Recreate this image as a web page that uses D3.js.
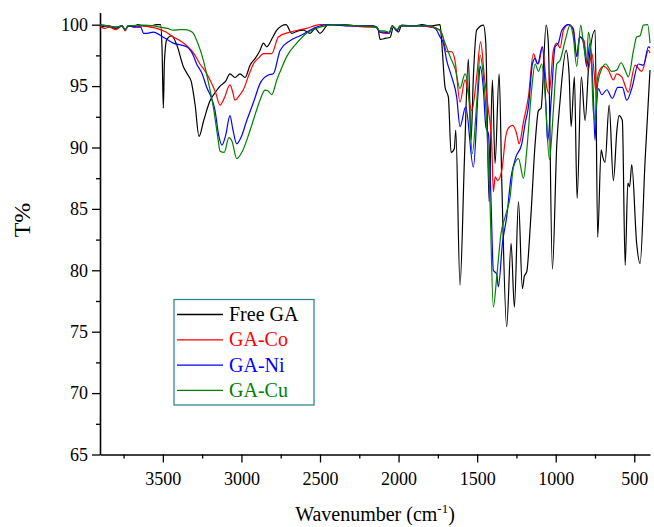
<!DOCTYPE html>
<html>
<head>
<meta charset="utf-8">
<script src="https://cdn.jsdelivr.net/npm/d3@7"></script>
<style>
  body { margin: 0; background: #fff; }
  svg text { font-family: "Liberation Serif", "Times New Roman", serif; }
</style>
</head>
<body>
<div id="chart"></div>
<script>
const freeGA = [
  [3900,99.8],[3850,99.9],[3800,99.7],[3760,99.9],[3740,99.6],[3720,99.9],[3680,99.8],[3660,100],[3620,99.9],
  [3580,99.9],[3540,100],[3515,100],[3505,98],[3497,93.2],[3490,97],[3475,98.8],[3444,99.1],[3410,98.3],
  [3370,96.6],[3340,95.9],[3320,95.4],[3295,93.5],[3270,90.9],[3240,92.2],[3200,93.8],[3160,94.6],[3136,95.0],
  [3100,95.4],[3073,96.0],[3041,95.7],[3009,96.0],[2977,95.7],[2945,96.7],[2910,97.3],[2882,97.9],[2860,98.5],
  [2839,98.2],[2800,99.0],[2775,99.55],[2716,100],[2680,99.3],[2640,99.5],[2606,99.55],[2563,99.3],[2531,99.7],
  [2500,99.3],[2447,100],[2350,100],[2250,99.9],[2160,99.9],[2130,99.6],[2118,98.8],[2080,98.9],[2054,98.96],
  [2033,99.8],[2015,99.6],[2001,99.4],[1980,99.96],[1900,99.9],[1850,100],[1800,99.9],[1736,100],[1725,98.5],
  [1704,94.9],[1683,94.1],[1666,89.6],[1645,89.9],[1636,91.4],[1609,78.8],[1581,89.0],[1556,97.2],[1539,90.6],
  [1524,95.75],[1503,99.55],[1460,99.96],[1445,98.5],[1424,85.6],[1403,95.5],[1386,88.7],[1360,96.0],[1343,87.1],
  [1312,75.4],[1284,82.2],[1263,77.0],[1237,85.6],[1212,78.5],[1200,79.5],[1184,79.9],[1160,84],[1131,90.3],
  [1110,93.0],[1093,93.2],[1061,99.96],[1047,98.5],[1021,80.1],[993,90.3],[972,93.85],[934,97.9],[915,96],
  [902,91.7],[881,95.75],[864,85.85],[837,95.75],[813,92.2],[788,97.1],[749,99.55],[733,82.7],[711,89.8],
  [700,89.2],[686,88.8],[660,93.45],[633,87.3],[610,91.5],[597,92.6],[576,92.2],[558,80.4],[541,87.1],
  [530,86.8],[516,88.6],[485,82.2],[463,80.55],[431,89.0],[400,96.3]
];

const gaCo = [
  [3900,99.9],[3870,99.7],[3840,99.8],[3800,99.6],[3760,99.9],[3740,99.5],[3720,99.9],[3680,99.8],[3625,99.9],
  [3580,99.8],[3540,99.7],[3480,99.4],[3434,99.0],[3390,98.7],[3349,98.3],[3300,97.6],[3264,96.8],[3230,96.2],
  [3200,95.5],[3165,94.5],[3136,93.45],[3110,94.0],[3073,95.1],[3055,94.5],[3041,93.85],[3015,94.2],[2988,94.7],
  [2950,96.0],[2924,96.8],[2890,97.3],[2860,97.65],[2807,97.65],[2765,99.0],[2691,99.4],[2585,99.7],[2500,100],
  [2300,99.9],[2200,99.8],[2139,99.8],[2120,99.4],[2090,99.3],[2060,99.3],[2040,99.9],[2010,99.5],[1990,99.9],
  [1850,99.9],[1800,99.8],[1757,99.7],[1725,99.3],[1694,97.8],[1662,97.8],[1640,97.0],[1609,93.7],[1577,95.5],
  [1534,93.0],[1503,95.75],[1478,98.6],[1454,95.75],[1428,93.0],[1407,90.3],[1397,86.4],[1385,87.6],[1369,87.3],
  [1343,88.15],[1318,90.9],[1300,91.6],[1275,91.8],[1248,91.1],[1233,90.3],[1205,92.1],[1174,94.1],[1142,97.65],
  [1131,97.3],[1121,96.9],[1110,96.8],[1085,98.2],[1057,94.9],[1042,94.4],[1015,97.9],[993,98.5],[972,98.1],
  [951,99.55],[919,100],[888,99.7],[866,97.4],[848,99.0],[820,98.7],[795,96.3],[769,97.65],[755,96],[746,94.7],
  [729,96.0],[697,96.6],[665,96.3],[633,95.5],[612,96.0],[580,95.75],[538,94.5],[495,96.7],[452,96.2],[410,97.9],
  [400,97.7]
];

const gaNi = [
  [3900,100],[3850,99.9],[3800,99.8],[3760,99.9],[3740,99.6],[3720,99.9],[3660,99.8],[3640,99.8],[3624,99.3],
  [3600,99.3],[3561,99.4],[3500,99.0],[3434,98.5],[3349,98.2],[3310,97.6],[3285,96.8],[3250,96.0],[3221,94.9],
  [3190,94.0],[3168,93.0],[3145,91.0],[3124,90.2],[3100,91.0],[3073,92.6],[3055,91.5],[3030,90.3],[3000,90.9],
  [2966,92.2],[2920,93.8],[2882,95.2],[2829,95.9],[2797,96.0],[2754,97.9],[2691,98.7],[2627,99.1],[2521,99.8],
  [2450,100],[2300,99.9],[2200,99.9],[2140,99.8],[2120,99.4],[2090,99.4],[2060,99.3],[2040,99.9],[2010,99.5],
  [1990,99.9],[1800,99.9],[1760,99.6],[1736,99.0],[1715,98.5],[1694,97.1],[1662,95.75],[1630,94.1],[1609,91.7],
  [1573,93.3],[1524,88.4],[1492,94.9],[1481,96.6],[1460,94.7],[1445,91.7],[1428,91.1],[1411,85.4],[1397,80.0],
  [1375,79.7],[1365,78.65],[1339,82.2],[1312,84.35],[1284,87.6],[1254,89.2],[1216,90.3],[1195,91.95],[1174,93.3],
  [1148,96.8],[1131,97.25],[1115,96.8],[1085,98.2],[1061,93.0],[1052,90.5],[1029,93.85],[1004,98.2],[983,98.5],
  [961,99.55],[919,100],[888,99.55],[866,97.4],[848,99.0],[824,98.6],[803,96.6],[782,98.5],[761,94.4],[750,90.6],
  [739,93.6],[729,94.8],[707,94.3],[675,94.7],[640,94.0],[605,94.9],[576,94.9],[548,93.85],[516,94.8],[474,96.8],
  [442,96.7],[410,98.2],[400,98.1]
];

const gaCu = [
  [3900,100],[3850,99.9],[3800,99.8],[3760,99.9],[3740,99.6],[3720,99.9],[3624,99.96],[3560,99.9],[3518,99.8],
  [3470,99.7],[3434,99.55],[3390,99.6],[3359,99.6],[3330,99.5],[3306,99.3],[3275,98.4],[3242,97.1],[3210,95.3],
  [3179,93.3],[3150,90.8],[3136,89.7],[3110,89.6],[3080,90.8],[3060,90.5],[3030,89.1],[2990,89.8],[2945,91.4],
  [2910,92.8],[2882,93.85],[2850,94.67],[2830,94.6],[2807,94.3],[2775,95.5],[2740,96.6],[2712,97.4],[2648,98.5],
  [2585,99.3],[2500,99.8],[2400,100],[2250,99.9],[2140,99.8],[2120,99.5],[2090,99.5],[2060,99.4],[2040,99.9],
  [2010,99.6],[1990,99.9],[1800,99.9],[1760,99.7],[1736,99.55],[1704,98.5],[1672,97.4],[1640,96.4],[1609,94.8],
  [1577,96.0],[1556,94.7],[1531,89.5],[1503,93.6],[1481,97.5],[1460,95.75],[1439,91.95],[1418,85.4],[1397,77.0],
  [1375,79.5],[1348,83.0],[1322,84.35],[1290,86.0],[1269,88.4],[1237,89.1],[1205,87.5],[1184,89.8],[1152,94.9],
  [1131,96.8],[1110,96.2],[1089,96.8],[1068,94.4],[1040,89.0],[1015,93.0],[993,96.8],[972,97.1],[940,98.7],
  [908,99.96],[888,99.0],[866,96.6],[841,99.96],[824,98.5],[803,97.1],[792,99.4],[775,97.65],[761,93.0],
  [750,92.2],[733,95.2],[707,96.4],[682,96.8],[644,96.2],[612,96.3],[584,96.9],[558,96.3],[538,95.75],
  [505,97.9],[485,99.0],[463,99.1],[442,99.96],[415,100],[400,98.5]
];

const seriesNames = ["Free GA", "GA-Co", "GA-Ni", "GA-Cu"];
const seriesColors = ["#000000", "#ff0000", "#0000ff", "#008000"];
const seriesData = [freeGA, gaCo, gaNi, gaCu];

const xTicks = [3500, 3000, 2500, 2000, 1500, 1000, 500];
const xMinorTicks = [3750, 3250, 2750, 2250, 1750, 1250, 750];
const yTicks = [65, 70, 75, 80, 85, 90, 95, 100];
const yMinorTicks = [67.5, 72.5, 77.5, 82.5, 87.5, 92.5, 97.5];

const width = 654;
const height = 527;

const svg = d3.select("#chart")
  .append("svg")
  .attr("width", width)
  .attr("height", height);

// escalas (eje x invertido)
const x = d3.scaleLinear().domain([3900, 400]).range([100, 650]);
const y = d3.scaleLinear().domain([65, 101]).range([454.5, 12.4]);

// ticks menores primero
svg.append("g")
  .attr("transform", `translate(0,${y(65)})`)
  .call(d3.axisBottom(x).tickValues(xMinorTicks).tickSize(4).tickFormat(""))
  .call((g) => g.select(".domain").remove())
  .selectAll("line").attr("stroke-width", 1.3);

svg.append("g")
  .attr("transform", `translate(${x(3900)},0)`)
  .call(d3.axisLeft(y).tickValues(yMinorTicks).tickSize(4).tickFormat(""))
  .call((g) => g.select(".domain").remove())
  .selectAll("line").attr("stroke-width", 1.3);

// ejes principales
const xAxis = svg.append("g")
  .attr("transform", `translate(0,${y(65)})`)
  .call(d3.axisBottom(x).tickValues(xTicks).tickFormat(d3.format("d"))
    .tickSize(8).tickSizeOuter(0).tickPadding(10));

const yAxis = svg.append("g")
  .attr("transform", `translate(${x(3900)},0)`)
  .call(d3.axisLeft(y).tickValues(yTicks).tickFormat(d3.format("d"))
    .tickSize(8).tickSizeOuter(0).tickPadding(4));

[xAxis, yAxis].forEach((a) => {
  a.select(".domain").attr("stroke-width", 1.6);
  a.selectAll("line").attr("stroke-width", 1.3);
  a.selectAll("text")
    .attr("font-size", 18)
    .attr("fill", "#000")
    .style("font-family", "'Liberation Serif', serif");
});

// lineas del espectro
const line = d3.line()
  .x((d) => x(d[0]))
  .y((d) => y(d[1]))
  .curve(d3.curveMonotoneX);

svg.append("g")
  .selectAll("path")
  .data(seriesData)
  .join("path")
  .attr("d", line)
  .attr("fill", "none")
  .attr("stroke", (d, i) => seriesColors[i])
  .attr("stroke-width", 1.2)
  .attr("stroke-linejoin", "round");

// titulos de ejes
const xTitle = svg.append("text")
  .attr("x", 375)
  .attr("y", 521)
  .attr("text-anchor", "middle")
  .attr("font-size", 20);
xTitle.append("tspan").text("Wavenumber (cm");
xTitle.append("tspan").attr("font-size", 13).attr("dy", -8).text("-1");
xTitle.append("tspan").attr("dy", 8).text(")");

svg.append("text")
  .attr("transform", "translate(30,220) rotate(-90)")
  .attr("text-anchor", "middle")
  .attr("font-size", 24)
  .text("T%");

// leyenda
const legend = svg.append("g");
legend.append("rect")
  .attr("x", 174)
  .attr("y", 299.5)
  .attr("width", 140)
  .attr("height", 105.5)
  .attr("fill", "#fff")
  .attr("stroke", "#2e8b8b")
  .attr("stroke-width", 1.3);

const items = legend.selectAll(".item")
  .data(seriesNames)
  .join("g")
  .attr("class", "item")
  .attr("transform", (d, i) => `translate(0,${314.5 + i * 25.3})`);

items.append("line")
  .attr("x1", 177)
  .attr("x2", 223)
  .attr("stroke", (d, i) => seriesColors[i])
  .attr("stroke-width", 1.3);

items.append("text")
  .attr("x", 229)
  .attr("y", 6.5)
  .attr("font-size", 20)
  .attr("fill", (d, i) => seriesColors[i])
  .text((d) => d);
</script>
</body>
</html>
